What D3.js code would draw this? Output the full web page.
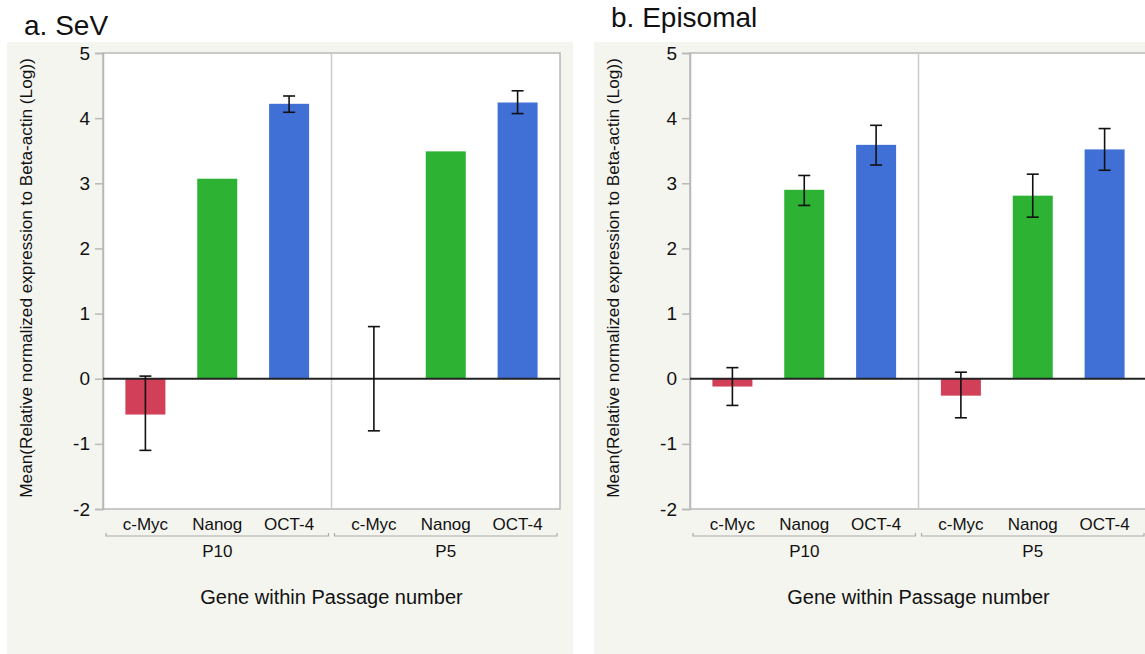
<!DOCTYPE html>
<html>
<head>
<meta charset="utf-8">
<script src="https://cdn.jsdelivr.net/npm/d3@7"></script>
<style>
  body { margin: 0; background: #fff; }
  svg { font-family: 'Liberation Sans', Arial, sans-serif; }
</style>
</head>
<body>
<svg id="chart" width="1145" height="654"></svg>
<script>
const genes = ['c-Myc', 'Nanog', 'OCT-4']
const passages = ['P10', 'P5']
const colors = ['#d14058', '#2db234', '#4070d6']
const yTicks = [-2, -1, 0, 1, 2, 3, 4, 5]

// SeV: mean per passage x gene, error bar low / high (null = none)
const sevMean = [[-0.55, 3.07, 4.22], [0, 3.49, 4.24]]
const sevLow = [[-1.1, null, 4.09], [-0.8, null, 4.07]]
const sevHigh = [[0.04, null, 4.34], [0.8, null, 4.42]]

// Episomal
const epiMean = [[-0.12, 2.9, 3.59], [-0.26, 2.81, 3.52]]
const epiLow = [[-0.41, 2.66, 3.28], [-0.6, 2.48, 3.2]]
const epiHigh = [[0.17, 3.12, 3.89], [0.1, 3.14, 3.84]]

const svg = d3.select('#chart')

function drawPanel(o) {
  let g = svg.append('g')

  g.append('rect')
    .attr('x', o.bg[0]).attr('y', 42)
    .attr('width', o.bg[1] - o.bg[0]).attr('height', 654 - 42)
    .attr('fill', '#f5f5f0')

  g.append('text')
    .attr('x', o.titleX).attr('y', o.titleY)
    .attr('font-size', 28)
    .attr('fill', '#111')
    .text(o.title)

  let top = 53, bottom = 509
  let y = d3.scaleLinear().domain([-2, 5]).range([bottom, top])
  let x0 = d3.scaleBand().domain(passages).range([o.left, o.right])
  let x1 = d3.scaleBand().domain(genes).range([0, x0.bandwidth()]).paddingOuter(0.09).paddingInner(0)

  g.append('rect')
    .attr('x', o.left).attr('y', top)
    .attr('width', o.right - o.left).attr('height', bottom - top)
    .attr('fill', '#fff')
    .attr('stroke', '#b8b8b8')
    .attr('stroke-width', 1.5)

  // divider between passages
  g.append('line')
    .attr('x1', x0('P5')).attr('x2', x0('P5'))
    .attr('y1', top).attr('y2', bottom)
    .attr('stroke', '#cccccc')
    .attr('stroke-width', 1.5)

  // y axis
  let axis = g.append('g')
    .attr('transform', 'translate(' + o.left + ',0)')
    .call(d3.axisLeft(y).tickValues(yTicks).tickSize(8).tickPadding(5).tickFormat(d => String(d)))
  axis.select('.domain').attr('stroke', '#b8b8b8').attr('stroke-width', 1.5)
  axis.selectAll('.tick line').attr('stroke', '#b8b8b8').attr('stroke-width', 1.5)
  axis.selectAll('.tick text')
    .attr('font-size', 19)
    .attr('fill', '#111')
    .attr('font-family', "'Liberation Sans', Arial, sans-serif")

  g.append('text')
    .attr('transform', 'translate(' + (o.left - 71) + ',' + 278 + ') rotate(-90)')
    .attr('text-anchor', 'middle')
    .attr('font-size', 17.2)
    .attr('fill', '#111')
    .text('Mean(Relative normalized expression to Beta-actin (Log))')

  let rows = []
  passages.forEach(function(p, i) {
    genes.forEach(function(gn, j) {
      rows.push({ p: p, gene: gn, j: j, mean: o.mean[i][j], low: o.low[i][j], high: o.high[i][j] })
    })
  })

  let bw = 40
  let cx = d => x0(d.p) + x1(d.gene) + x1.bandwidth() / 2

  g.selectAll('rect.bar').data(rows).enter().append('rect')
    .attr('class', 'bar')
    .attr('x', d => cx(d) - bw / 2)
    .attr('width', bw)
    .attr('y', d => y(Math.max(0, d.mean)))
    .attr('height', d => Math.abs(y(d.mean) - y(0)))
    .attr('fill', d => colors[d.j])

  // zero line
  g.append('line')
    .attr('x1', o.left).attr('x2', o.right)
    .attr('y1', y(0)).attr('y2', y(0))
    .attr('stroke', '#222')
    .attr('stroke-width', 2)

  let err = rows.filter(d => d.low !== null)
  let eg = g.selectAll('g.err').data(err).enter().append('g')
    .attr('stroke', '#111').attr('stroke-width', 1.6)
  eg.append('line')
    .attr('x1', cx).attr('x2', cx)
    .attr('y1', d => y(d.low)).attr('y2', d => y(d.high))
  eg.append('line')
    .attr('x1', d => cx(d) - 6).attr('x2', d => cx(d) + 6)
    .attr('y1', d => y(d.low)).attr('y2', d => y(d.low))
  eg.append('line')
    .attr('x1', d => cx(d) - 6).attr('x2', d => cx(d) + 6)
    .attr('y1', d => y(d.high)).attr('y2', d => y(d.high))

  // gene labels
  g.selectAll('text.gene').data(rows).enter().append('text')
    .attr('class', 'gene')
    .attr('x', cx)
    .attr('y', bottom + 21)
    .attr('text-anchor', 'middle')
    .attr('font-size', 17)
    .attr('fill', '#111')
    .text(d => d.gene)

  // passage brackets
  passages.forEach(function(p) {
    let a = x0(p) + 3, b = x0(p) + x0.bandwidth() - 3
    g.append('path')
      .attr('d', 'M' + a + ',' + (bottom + 24) + 'V' + (bottom + 27) + 'H' + b + 'V' + (bottom + 24))
      .attr('fill', 'none')
      .attr('stroke', '#aaa')
      .attr('stroke-width', 1.2)
    g.append('text')
      .attr('x', (a + b) / 2)
      .attr('y', bottom + 48)
      .attr('text-anchor', 'middle')
      .attr('font-size', 17)
      .attr('fill', '#111')
      .text(p)
  })

  g.append('text')
    .attr('x', (o.left + o.right) / 2)
    .attr('y', bottom + 95)
    .attr('text-anchor', 'middle')
    .attr('font-size', 20)
    .attr('fill', '#111')
    .text('Gene within Passage number')
}

drawPanel({
  title: 'a. SeV', titleX: 24, titleY: 35,
  bg: [7, 573], left: 103, right: 560,
  mean: sevMean, low: sevLow, high: sevHigh
})

drawPanel({
  title: 'b. Episomal', titleX: 611, titleY: 27,
  bg: [594, 1145], left: 690, right: 1147,
  mean: epiMean, low: epiLow, high: epiHigh
})
</script>
</body>
</html>
